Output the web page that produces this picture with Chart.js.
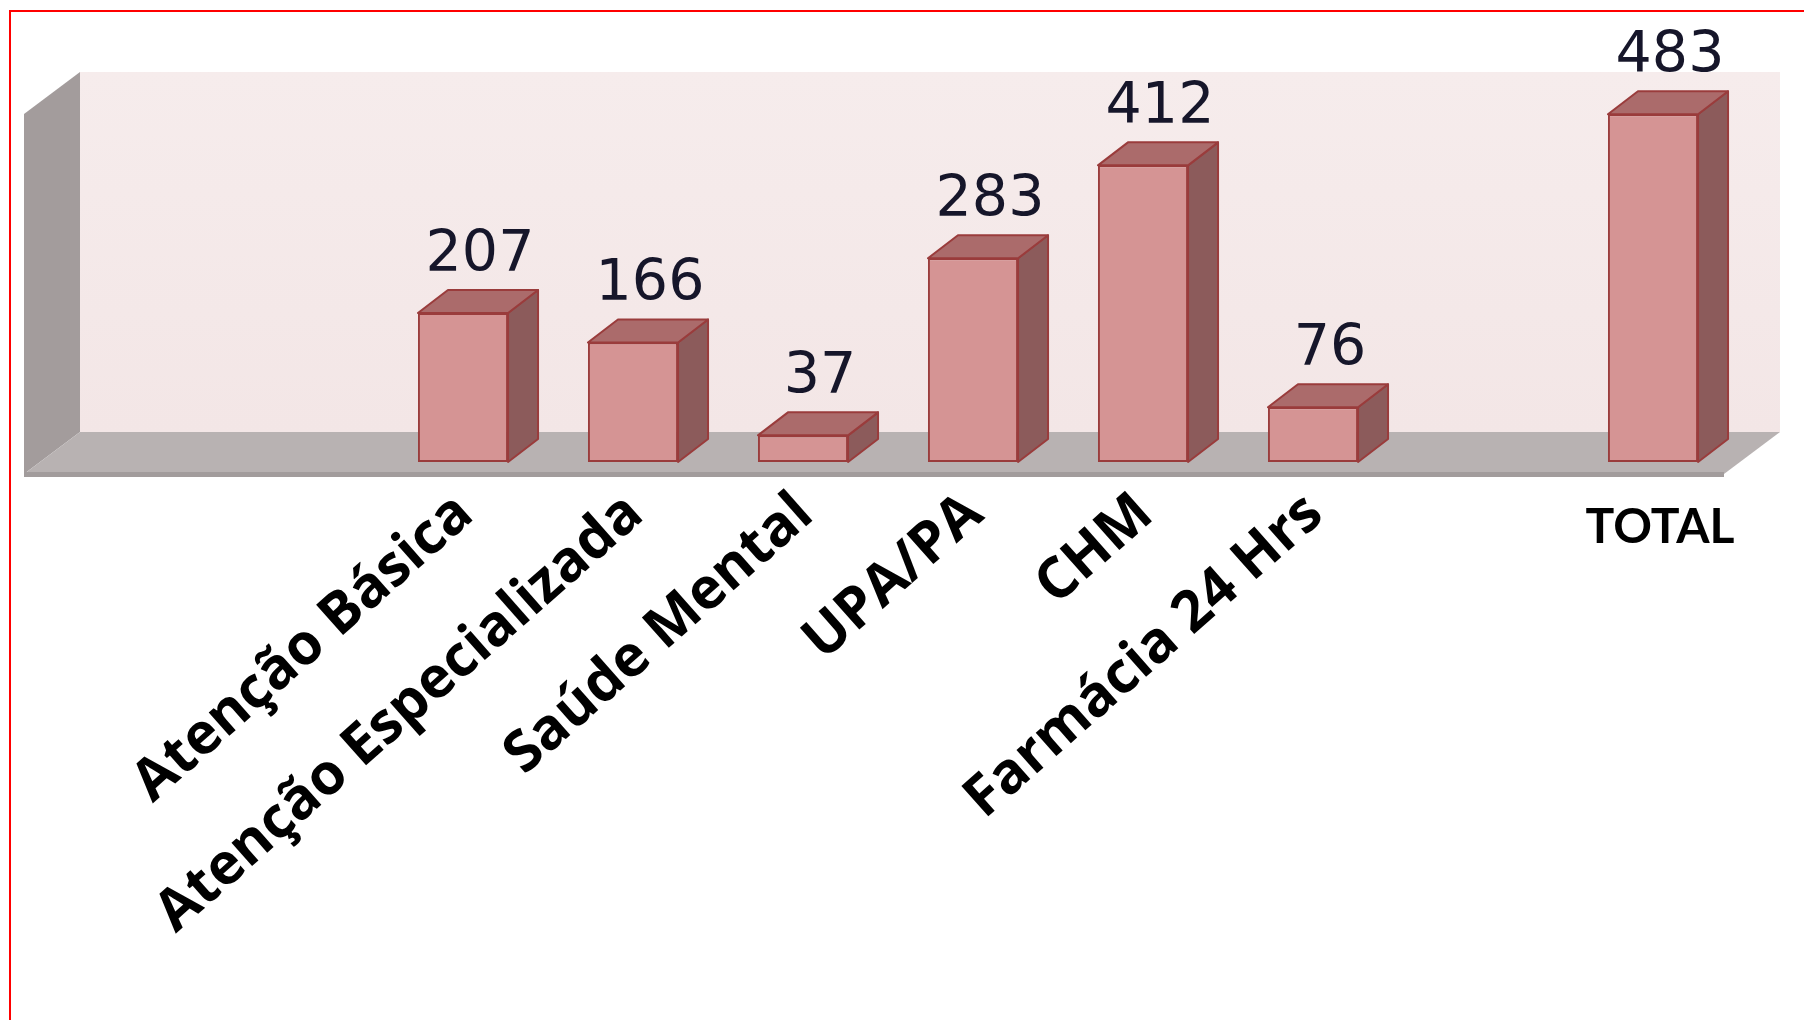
<!DOCTYPE html>
<html>
<head>
<meta charset="utf-8">
<script src="https://cdn.jsdelivr.net/npm/chart.js@4/dist/chart.umd.min.js"></script>
<style>
  html, body { margin: 0; padding: 0; background: #ffffff; }
  #wrap { width: 1804px; height: 1020px; position: relative; }
</style>
</head>
<body>
<div id="wrap"><canvas id="c" width="1804" height="1020"></canvas></div>
<script>
// ---- data ----
const categories = ['', '', 'Atenção Básica', 'Atenção Especializada', 'Saúde Mental', 'UPA/PA', 'CHM', 'Farmácia 24 Hrs', '', 'TOTAL'];
const values = [null, null, 207, 166, 37, 283, 412, 76, null, 483];
const horizontalCategory = 'TOTAL';
const yMin = 0;
const yMax = 500;

// ---- style ----
const FRONT = { dx: -14, dy: 12 };   // floor front edge relative to bar plane
const BACK = { dx: 42, dy: -30 };    // back wall relative to bar plane
const DEPTH = { dx: 30, dy: -23 };   // bar depth

const threeD = {
  id: 'threeD',
  beforeDatasetsDraw(chart) {
    const ctx = chart.ctx, ca = chart.chartArea;
    ctx.save();
    // back wall
    const g = ctx.createLinearGradient(0, ca.top + BACK.dy, 0, ca.bottom + BACK.dy);
    g.addColorStop(0, '#f6ecec');
    g.addColorStop(1, '#f3e6e6');
    ctx.fillStyle = g;
    ctx.fillRect(ca.left + BACK.dx, ca.top + BACK.dy, ca.right - ca.left, ca.bottom - ca.top);
    // side wall
    ctx.fillStyle = '#a39c9c';
    ctx.beginPath();
    ctx.moveTo(ca.left + FRONT.dx, ca.top + FRONT.dy);
    ctx.lineTo(ca.left + BACK.dx, ca.top + BACK.dy);
    ctx.lineTo(ca.left + BACK.dx, ca.bottom + BACK.dy);
    ctx.lineTo(ca.left + FRONT.dx, ca.bottom + FRONT.dy);
    ctx.closePath();
    ctx.fill();
    // floor
    ctx.fillStyle = '#b8b2b2';
    ctx.beginPath();
    ctx.moveTo(ca.left + FRONT.dx, ca.bottom + FRONT.dy);
    ctx.lineTo(ca.left + BACK.dx, ca.bottom + BACK.dy);
    ctx.lineTo(ca.right + BACK.dx, ca.bottom + BACK.dy);
    ctx.lineTo(ca.right + FRONT.dx, ca.bottom + FRONT.dy);
    ctx.closePath();
    ctx.fill();
    // floor front edge
    ctx.fillStyle = '#a29c9c';
    ctx.fillRect(ca.left + FRONT.dx, ca.bottom + FRONT.dy - 2, ca.right - ca.left, 5);

    // bar top & side faces
    const meta = chart.getDatasetMeta(0);
    meta.data.forEach((bar, i) => {
      if (values[i] === null || values[i] === undefined) return;
      const p = bar.getProps(['x', 'y', 'base', 'width'], true);
      const l = p.x - p.width / 2, r = p.x + p.width / 2;
      ctx.lineWidth = 2;
      ctx.strokeStyle = '#9a3c3c';
      ctx.lineJoin = 'round';
      // side
      ctx.fillStyle = '#8c5b5b';
      ctx.beginPath();
      ctx.moveTo(r, p.y);
      ctx.lineTo(r + DEPTH.dx, p.y + DEPTH.dy);
      ctx.lineTo(r + DEPTH.dx, p.base + DEPTH.dy);
      ctx.lineTo(r, p.base);
      ctx.closePath();
      ctx.fill(); ctx.stroke();
      // top
      ctx.fillStyle = '#ab6b6b';
      ctx.beginPath();
      ctx.moveTo(l, p.y);
      ctx.lineTo(l + DEPTH.dx, p.y + DEPTH.dy);
      ctx.lineTo(r + DEPTH.dx, p.y + DEPTH.dy);
      ctx.lineTo(r, p.y);
      ctx.closePath();
      ctx.fill(); ctx.stroke();
    });
    ctx.restore();
  },
  afterDatasetsDraw(chart) {
    const ctx = chart.ctx, ca = chart.chartArea;
    const meta = chart.getDatasetMeta(0);
    ctx.save();
    ctx.fillStyle = '#16162a';
    ctx.font = '57px "DejaVu Sans", Verdana, sans-serif';
    ctx.textAlign = 'center';
    ctx.textBaseline = 'alphabetic';
    meta.data.forEach((bar, i) => {
      if (values[i] === null || values[i] === undefined) return;
      const p = bar.getProps(['x', 'y'], true);
      ctx.fillText(String(values[i]), p.x + 17, p.y - 42);
    });
    // horizontal category label (TOTAL)
    const xs = chart.scales.x;
    const idx = categories.indexOf(horizontalCategory);
    if (idx >= 0) {
      ctx.fillStyle = '#000000';
      ctx.font = 'bold 48px Lato, "Open Sans", sans-serif';
      ctx.textAlign = 'center';
      ctx.fillText(categories[idx], xs.getPixelForTick(idx) + 7, ca.bottom + 81);
    }
    ctx.restore();
  },
  afterDraw(chart) {
    const ctx = chart.ctx;
    ctx.save();
    ctx.fillStyle = '#ff0000';
    ctx.fillRect(9, 10, 2, chart.height - 10);
    ctx.fillRect(9, 10, chart.width - 9, 2);
    ctx.restore();
  }
};

new Chart(document.getElementById('c'), {
  type: 'bar',
  data: {
    labels: categories,
    datasets: [{
      data: values,
      backgroundColor: '#d59494',
      borderColor: '#9a3c3c',
      borderWidth: 2,
      borderSkipped: false,
      barPercentage: 0.53,
      categoryPercentage: 1.0
    }]
  },
  options: {
    responsive: false,
    animation: false,
    devicePixelRatio: 1,
    layout: { padding: { left: 38, right: 66, top: 102, bottom: 0 } },
    plugins: { legend: { display: false }, tooltip: { enabled: false } },
    scales: {
      x: {
        grid: { display: false, drawTicks: false },
        border: { display: false },
        ticks: {
          autoSkip: false,
          minRotation: 41.5,
          maxRotation: 41.5,
          padding: 18,
          labelOffset: 2,
          color: '#000000',
          font: { family: '"Open Sans", sans-serif', weight: 'bold', size: 57 },
          callback: function (v, i) { return categories[i] === horizontalCategory ? '' : categories[i]; }
        },
        afterFit: function (s) {
          s.height = 1020 - 462;
          s.paddingLeft = 0;
          s.paddingRight = 0;
        }
      },
      y: { display: false, min: yMin, max: yMax }
    }
  },
  plugins: [threeD]
});
</script>
</body>
</html>
